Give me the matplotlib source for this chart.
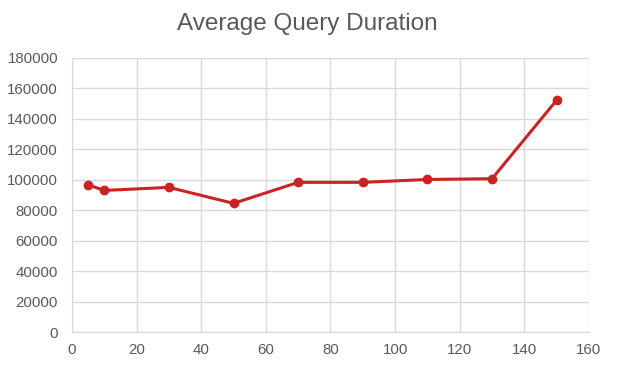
import matplotlib
matplotlib.use("Agg")
import matplotlib.pyplot as plt

# data
clients = [5, 10, 30, 50, 70, 90, 110, 130, 150]
duration = [96600, 93000, 95000, 84500, 98300, 98300, 100200, 100700, 152300]

TEXT_COLOR = "#595959"
GRID_COLOR = "#d9d9d9"
LINE_COLOR = "#cc2222"

plt.rcParams["font.family"] = ["Liberation Sans", "DejaVu Sans"]

fig = plt.figure(figsize=(6.19, 3.71), dpi=100)
ax = fig.add_axes([0.1163, 0.1051, 0.8352, 0.7386])

ax.plot(clients, duration, color=LINE_COLOR, linewidth=2.2,
        marker="o", markersize=6, zorder=3)

ax.set_xlim(0, 160)
ax.set_ylim(0, 180000)
ax.set_xticks(range(0, 161, 20))
ax.set_yticks(range(0, 180001, 20000))
ax.grid(True, color=GRID_COLOR, linewidth=1)
ax.set_axisbelow(True)

for side in ["top", "right"]:
    ax.spines[side].set_visible(False)
ax.spines["left"].set_color(GRID_COLOR)
ax.spines["bottom"].set_color(GRID_COLOR)
ax.tick_params(length=0, labelsize=10.8, colors=TEXT_COLOR)
ax.tick_params(axis="y", pad=10)
ax.tick_params(axis="x", pad=8)

fig.text(0.497, 0.935, "Average Query Duration", ha="center", va="center",
         fontsize=17.5, color=TEXT_COLOR)

fig.savefig("out.png", dpi=100)
